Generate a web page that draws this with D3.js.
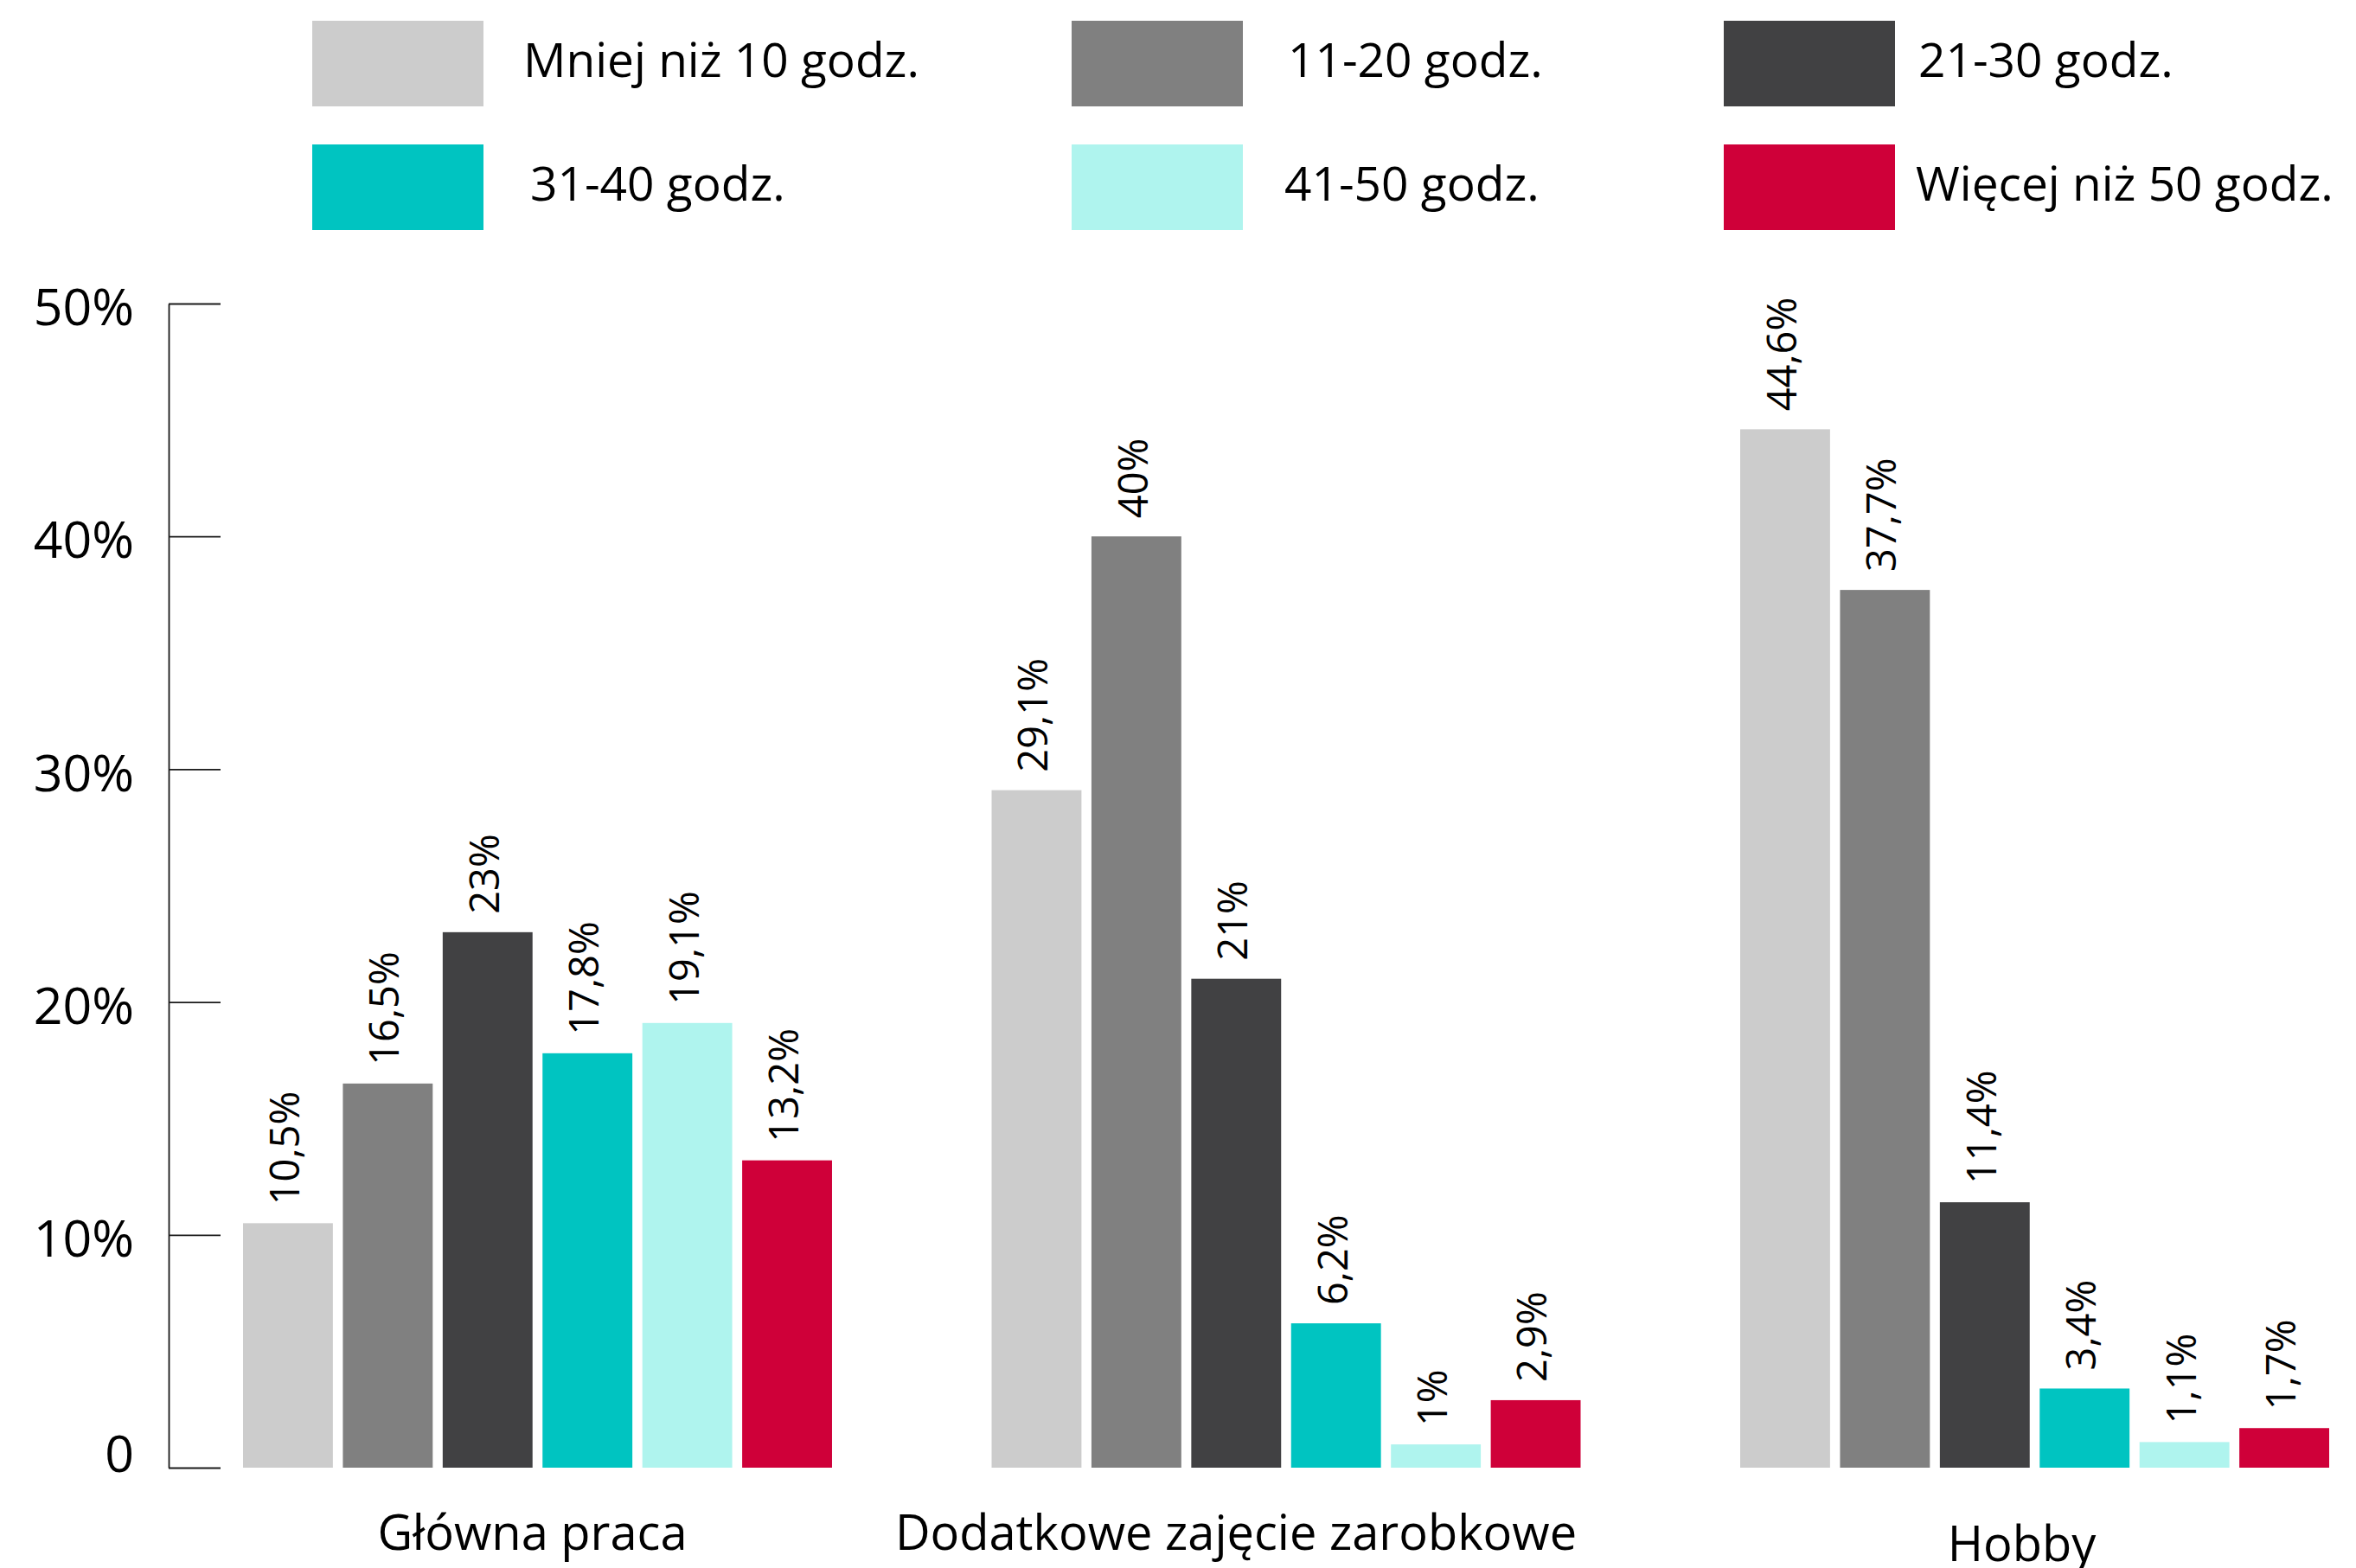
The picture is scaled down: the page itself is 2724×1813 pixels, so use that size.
<!DOCTYPE html>
<html lang="pl">
<head>
<meta charset="utf-8">
<script src="https://cdn.jsdelivr.net/npm/d3@7"></script>
<style>
  html, body { margin: 0; padding: 0; background: #ffffff; }
  svg { display: block; }
  text { font-family: "Open Sans", "Noto Sans", sans-serif; fill: #000; }
</style>
</head>
<body>
<svg id="chart" width="2724" height="1813"></svg>
<script>
// Categories (groups on the x axis)
const categories = ["Główna praca", "Dodatkowe zajęcie zarobkowe", "Hobby"];

// Series: weekly hours bands
const series = ["Mniej niż 10 godz.", "11-20 godz.", "21-30 godz.", "31-40 godz.", "41-50 godz.", "Więcej niż 50 godz."];
const seriesColors = ["#cccccc", "#808080", "#414143", "#00c4c1", "#aff4ee", "#cf0039"];

// Share of respondents (%) per category, one value per series
const glownaPraca = [10.5, 16.5, 23, 17.8, 19.1, 13.2];
const dodatkowe   = [29.1, 40, 21, 6.2, 1, 2.9];
const hobby       = [44.6, 37.7, 11.4, 3.4, 1.1, 1.7];
const values = [glownaPraca, dodatkowe, hobby];

// Y axis ticks
const yTicks = [0, 10, 20, 30, 40, 50];

const svg = d3.select("#chart");

// Scales
const y = d3.scaleLinear().domain([0, 50]).range([1697, 351]);
const x0 = d3.scaleBand().domain(categories).range([281, 2693]).paddingInner(0.2132).paddingOuter(0);
const x1 = d3.scaleBand().domain(series).range([0, x0.bandwidth()]).paddingInner(0.1).paddingOuter(0);
const color = d3.scaleOrdinal().domain(series).range(seriesColors);

const fmt = v => String(v).replace(".", ",") + "%";

// Y axis: ticks point into the plot, labels on the left
const yAxis = d3.axisLeft(y)
  .tickValues(yTicks)
  .tickSizeInner(-60)
  .tickSizeOuter(0)
  .tickPadding(40)
  .tickFormat(d => d === 0 ? "0" : d + "%");

const gy = svg.append("g").attr("transform", "translate(195,0)").call(yAxis);
gy.select(".domain").attr("stroke", "#1a1a1a").attr("stroke-width", 1.8);
gy.selectAll(".tick line").attr("stroke", "#1a1a1a").attr("stroke-width", 1.8);
gy.selectAll(".tick text")
  .attr("font-family", "'Open Sans', sans-serif")
  .attr("font-size", 59)
  .attr("fill", "#000")
  .attr("dy", d => d === 0 ? "0.07em" : "0.42em");

// Bars
const groups = svg.append("g").selectAll("g")
  .data(categories)
  .join("g")
  .attr("transform", d => `translate(${x0(d)},0)`);

groups.selectAll("rect")
  .data((c, i) => series.map((s, j) => ({ s, v: values[i][j] })))
  .join("rect")
  .attr("x", d => x1(d.s))
  .attr("y", d => y(d.v))
  .attr("width", x1.bandwidth())
  .attr("height", d => y(0) - y(d.v))
  .attr("fill", d => color(d.s));

// Value labels, rotated above each bar
groups.selectAll("text.val")
  .data((c, i) => series.map((s, j) => ({ s, v: values[i][j] })))
  .join("text")
  .attr("class", "val")
  .attr("transform", d => `translate(${x1(d.s) + x1.bandwidth() / 2 - 4},${y(d.v) - 21}) rotate(-90)`)
  .attr("dy", "0.36em")
  .attr("text-anchor", "start")
  .attr("font-size", 47)
  .text(d => fmt(d.v));

// Category labels under the groups
const labelNudge = [-6, -58, -15];
const labelBaseline = [1792, 1792, 1805];
svg.append("g").selectAll("text")
  .data(categories)
  .join("text")
  .attr("x", (d, i) => x0(d) + x0.bandwidth() / 2 + labelNudge[i])
  .attr("y", (d, i) => labelBaseline[i])
  .attr("text-anchor", "middle")
  .attr("font-size", 56)
  .text(d => d);

// Legend: two rows of three
const legendColX = [361, 1239, 1993];
const legendTextX = [[605, 1489, 2218], [613, 1485, 2215]];
const legendRowY = [24, 167];
const legend = svg.append("g").selectAll("g")
  .data(series)
  .join("g")
  .attr("transform", (d, i) => `translate(0,${legendRowY[Math.floor(i / 3)]})`);

legend.append("rect")
  .attr("x", (d, i) => legendColX[i % 3])
  .attr("y", 0)
  .attr("width", 198)
  .attr("height", 99)
  .attr("fill", d => color(d));

legend.append("text")
  .attr("x", (d, i) => legendTextX[Math.floor(i / 3)][i % 3])
  .attr("y", 65)
  .attr("font-size", 55)
  .text(d => d);
</script>
</body>
</html>
